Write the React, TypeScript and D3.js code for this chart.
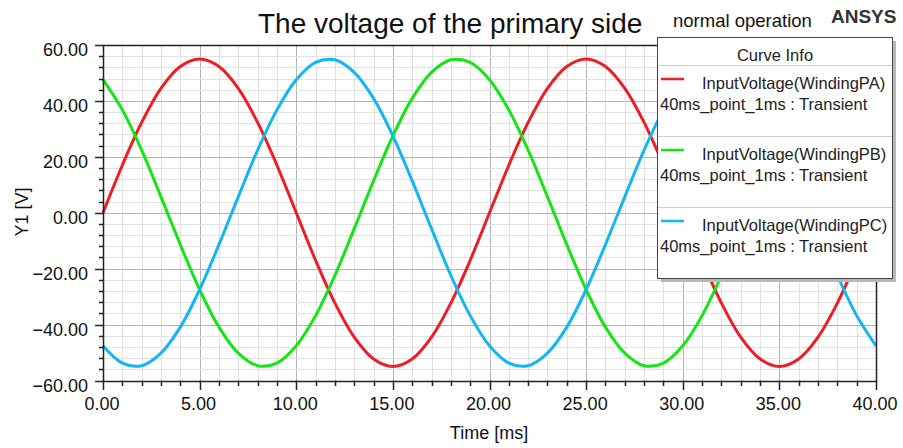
import React from "react";
import * as d3 from "d3";

// sample times, 1 ms apart (40ms_point_1ms)
const timeMs = [0, 1, 2, 3, 4, 5, 6, 7, 8, 9, 10, 11, 12, 13, 14, 15, 16, 17, 18, 19, 20,
    21, 22, 23, 24, 25, 26, 27, 28, 29, 30, 31, 32, 33, 34, 35, 36, 37, 38, 39, 40];

// InputVoltage [V]
const windingPA = [0, 17.0, 32.3, 44.5, 52.3, 55.0, 52.3, 44.5, 32.3, 17.0, 0, -17.0, -32.3, -44.5, -52.3, -55.0, -52.3, -44.5, -32.3, -17.0,
    0, 17.0, 32.3, 44.5, 52.3, 55.0, 52.3, 44.5, 32.3, 17.0, 0, -17.0, -32.3, -44.5, -52.3, -55.0, -52.3, -44.5, -32.3, -17.0, 0];
const windingPB = [47.6, 36.8, 22.4, 5.7, -11.4, -27.5, -40.9, -50.2, -54.7, -53.8, -47.6, -36.8, -22.4, -5.7, 11.4, 27.5, 40.9, 50.2, 54.7, 53.8,
    47.6, 36.8, 22.4, 5.7, -11.4, -27.5, -40.9, -50.2, -54.7, -53.8, -47.6, -36.8, -22.4, -5.7, 11.4, 27.5, 40.9, 50.2, 54.7, 53.8, 47.6];
const windingPC = [-47.6, -53.8, -54.7, -50.2, -40.9, -27.5, -11.4, 5.7, 22.4, 36.8, 47.6, 53.8, 54.7, 50.2, 40.9, 27.5, 11.4, -5.7, -22.4, -36.8,
    -47.6, -53.8, -54.7, -50.2, -40.9, -27.5, -11.4, 5.7, 22.4, 36.8, 47.6, 53.8, 54.7, 50.2, 40.9, 27.5, 11.4, -5.7, -22.4, -36.8, -47.6];

const seriesNames = ["InputVoltage(WindingPA)", "InputVoltage(WindingPB)", "InputVoltage(WindingPC)"];
const seriesSource = "40ms_point_1ms : Transient";
const xTicks = [0, 5, 10, 15, 20, 25, 30, 35, 40];
const yTicks = [-60, -40, -20, 0, 20, 40, 60];

const colors = ["#ee1d25", "#14e614", "#12b6f2"];
const font = "'Liberation Sans', Arial, sans-serif";

const App = () => {
    const svgRef = React.useRef<SVGSVGElement>(null);

    React.useEffect(() => {
        document.body.style.margin = "0";
        drawChart();
    }, []);

    const drawChart = () => {
        if (!svgRef.current) return;
        const svg = d3.select(svgRef.current);
        svg.selectAll("*").remove();

        const x = d3.scaleLinear().domain([0, 40]).range([103, 876]);
        const y = d3.scaleLinear().domain([-60, 60]).range([380.5, 45]);
        const crisp = (v: number) => Math.round(v) + 0.5;
        const fmt = d3.format(".2f");

        // title and corner texts
        svg.append("text")
            .attr("x", 258).attr("y", 33)
            .style("font", `28px ${font}`)
            .attr("fill", "#111")
            .text("The voltage of the primary side");
        svg.append("text")
            .attr("x", 673).attr("y", 27)
            .style("font", `18.5px ${font}`)
            .attr("fill", "#111")
            .text("normal operation");
        svg.append("text")
            .attr("x", 831).attr("y", 23)
            .style("font", `bold 19px ${font}`)
            .attr("fill", "#333")
            .text("ANSYS");

        // grid
        const grid = svg.append("g");
        grid.selectAll("line.vminor")
            .data(d3.range(0, 41, 1))
            .join("line")
            .attr("x1", d => crisp(x(d))).attr("x2", d => crisp(x(d)))
            .attr("y1", y(60)).attr("y2", y(-60))
            .attr("stroke", d => d % 5 === 0 ? "#b4b4b4" : "#e2e2e2");
        grid.selectAll("line.hminor")
            .data(d3.range(-60, 61, 4))
            .join("line")
            .attr("y1", d => crisp(y(d))).attr("y2", d => crisp(y(d)))
            .attr("x1", x(0)).attr("x2", x(40))
            .attr("stroke", d => d % 20 === 0 ? "#b4b4b4" : "#e2e2e2");

        // curves
        const line = d3.line<number>()
            .x((_d, i) => x(timeMs[i]))
            .y(d => y(d))
            .curve(d3.curveCatmullRom);
        [windingPA, windingPB, windingPC].forEach((s, i) => {
            svg.append("path")
                .attr("d", line(s))
                .attr("fill", "none")
                .attr("stroke", colors[i])
                .attr("stroke-width", 3);
        });

        // frame
        svg.append("rect")
            .attr("x", crisp(x(0))).attr("y", crisp(y(60)))
            .attr("width", Math.round(x(40)) - Math.round(x(0)))
            .attr("height", Math.round(y(-60)) - Math.round(y(60)))
            .attr("fill", "none")
            .attr("stroke", "#222")
            .attr("stroke-width", 1.5);

        // y axis ticks
        svg.append("g").selectAll("line")
            .data(d3.range(-60, 61, 4))
            .join("line")
            .attr("y1", d => crisp(y(d))).attr("y2", d => crisp(y(d)))
            .attr("x1", d => d % 20 === 0 ? 95 : 99).attr("x2", x(0))
            .attr("stroke", "#222").attr("stroke-width", 1.5);
        svg.append("g").selectAll("text")
            .data(yTicks)
            .join("text")
            .attr("x", 88).attr("y", d => y(d) + 11)
            .attr("text-anchor", "end")
            .style("font", `18px ${font}`)
            .attr("fill", "#111")
            .text(d => fmt(d));

        // x axis ticks
        svg.append("g").selectAll("line")
            .data(d3.range(0, 41, 1))
            .join("line")
            .attr("x1", d => crisp(x(d))).attr("x2", d => crisp(x(d)))
            .attr("y1", y(-60)).attr("y2", d => d % 5 === 0 ? 390 : 386)
            .attr("stroke", "#222").attr("stroke-width", 1.5);
        svg.append("g").selectAll("text")
            .data(xTicks)
            .join("text")
            .attr("x", d => x(d) - 1).attr("y", 410)
            .attr("text-anchor", "middle")
            .style("font", `18px ${font}`)
            .attr("fill", "#111")
            .text(d => fmt(d));

        // axis titles
        svg.append("text")
            .attr("x", 489).attr("y", 439)
            .attr("text-anchor", "middle")
            .style("font", `18px ${font}`)
            .attr("fill", "#111")
            .text("Time [ms]");
        svg.append("text")
            .attr("transform", `translate(28, 212) rotate(-90)`)
            .attr("text-anchor", "middle")
            .style("font", `18px ${font}`)
            .attr("fill", "#111")
            .text("Y1 [V]");

        // legend box
        const lg = svg.append("g");
        lg.append("rect")
            .attr("x", 661).attr("y", 41).attr("width", 235).attr("height", 241)
            .attr("fill", "#b8b8b8");
        lg.append("rect")
            .attr("x", 657.5).attr("y", 37.5).attr("width", 235).attr("height", 241)
            .attr("fill", "#fff")
            .attr("stroke", "#444");
        lg.append("text")
            .attr("x", 775).attr("y", 61)
            .attr("text-anchor", "middle")
            .style("font", `16.5px ${font}`)
            .attr("fill", "#222")
            .text("Curve Info");
        lg.append("line")
            .attr("x1", 658).attr("x2", 892).attr("y1", 65.5).attr("y2", 65.5)
            .attr("stroke", "#cfcfcf");

        seriesNames.forEach((name, i) => {
            const top = 79 + i * 71;
            lg.append("line")
                .attr("x1", 661).attr("x2", 684)
                .attr("y1", top).attr("y2", top)
                .attr("stroke", colors[i]).attr("stroke-width", 2.5);
            lg.append("text")
                .attr("x", 702).attr("y", top + 9.5)
                .style("font", `16.5px ${font}`)
                .attr("fill", "#222")
                .text(name);
            lg.append("text")
                .attr("x", 660).attr("y", top + 31)
                .style("font", `16.5px ${font}`)
                .attr("fill", "#222")
                .text(seriesSource);
            if (i < seriesNames.length - 1) {
                lg.append("line")
                    .attr("x1", 658).attr("x2", 892)
                    .attr("y1", top + 57.5).attr("y2", top + 57.5)
                    .attr("stroke", "#cfcfcf");
            }
        });
    };

    return <svg ref={svgRef} width={903} height={448} style={{ display: "block", background: "#fff" }}></svg>;
};

export default App;
